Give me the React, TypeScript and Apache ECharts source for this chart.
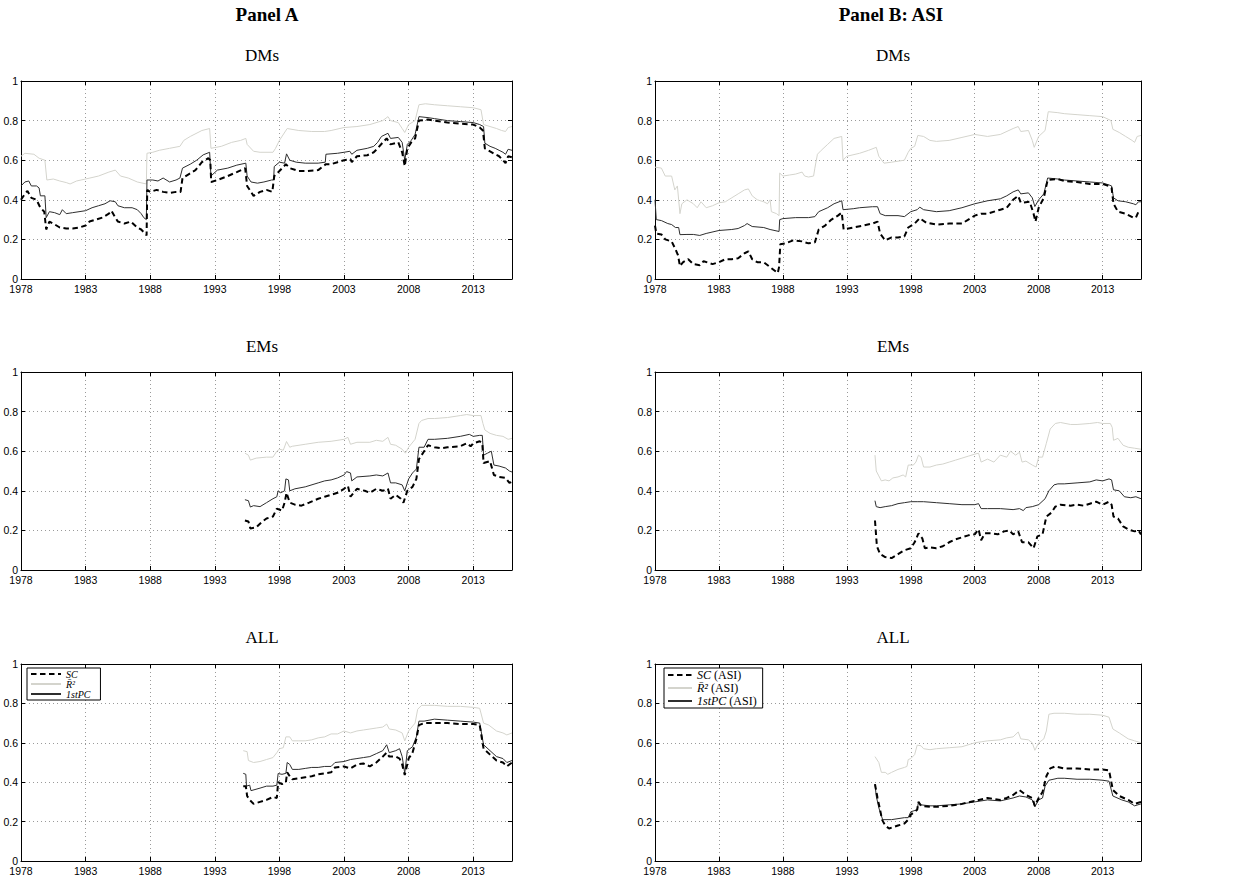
import React, { useEffect, useRef } from "react";
import * as echarts from "echarts";

// ---------- data: [year, value] ----------
const A_DM_SC = [[1978,0.40],[1978.3,0.43],[1978.5,0.445],[1978.8,0.41],[1979.2,0.40],[1979.5,0.36],[1979.8,0.34],[1979.95,0.25],[1980.2,0.29],[1980.5,0.28],[1981,0.26],[1981.5,0.255],[1982,0.255],[1982.5,0.26],[1983,0.27],[1983.3,0.29],[1983.8,0.30],[1984.3,0.31],[1984.8,0.33],[1985,0.345],[1985.3,0.31],[1985.5,0.29],[1986,0.28],[1986.5,0.29],[1987,0.26],[1987.3,0.25],[1987.6,0.23],[1987.72,0.22],[1987.77,0.45],[1988,0.44],[1988.5,0.45],[1989,0.44],[1989.5,0.435],[1990,0.44],[1990.35,0.44],[1990.5,0.51],[1991,0.53],[1991.5,0.55],[1992,0.59],[1992.5,0.61],[1992.65,0.60],[1992.72,0.49],[1993.2,0.50],[1994,0.52],[1994.7,0.54],[1995.35,0.56],[1995.5,0.47],[1995.8,0.44],[1996,0.42],[1996.5,0.44],[1997,0.45],[1997.45,0.44],[1997.6,0.52],[1998,0.545],[1998.5,0.58],[1998.8,0.56],[1999.5,0.545],[2000,0.545],[2001,0.55],[2001.6,0.58],[2002,0.58],[2002.5,0.59],[2003,0.60],[2003.5,0.605],[2003.6,0.59],[2004,0.62],[2004.8,0.625],[2005.3,0.64],[2005.6,0.66],[2006,0.69],[2006.3,0.71],[2006.6,0.68],[2007.2,0.69],[2007.5,0.64],[2007.7,0.57],[2007.9,0.66],[2008.2,0.69],[2008.5,0.71],[2008.8,0.80],[2009.5,0.805],[2010,0.80],[2011,0.79],[2012,0.785],[2013,0.78],[2013.5,0.765],[2013.75,0.75],[2013.9,0.66],[2014.3,0.645],[2014.7,0.63],[2015,0.62],[2015.3,0.60],[2015.5,0.585],[2015.7,0.62],[2016,0.615]];
const A_DM_R2 = [[1978,0.62],[1978.3,0.635],[1979,0.63],[1979.4,0.61],[1979.85,0.60],[1980,0.50],[1980.5,0.505],[1981,0.495],[1981.5,0.487],[1981.8,0.48],[1982.3,0.495],[1983,0.505],[1984,0.52],[1984.8,0.54],[1985.3,0.55],[1985.7,0.52],[1986.3,0.51],[1987,0.49],[1987.7,0.48],[1987.75,0.635],[1988.2,0.64],[1988.7,0.65],[1989.5,0.66],[1990.3,0.67],[1990.6,0.70],[1991.1,0.72],[1992,0.75],[1992.6,0.76],[1992.7,0.66],[1993.5,0.67],[1994.3,0.69],[1995,0.70],[1995.4,0.71],[1995.5,0.68],[1996,0.645],[1996.5,0.64],[1997.5,0.64],[1997.7,0.66],[1998,0.70],[1998.6,0.76],[1999.5,0.75],[2000.5,0.745],[2001.5,0.745],[2002,0.75],[2003,0.765],[2004,0.77],[2005,0.78],[2006,0.80],[2006.4,0.82],[2006.6,0.80],[2007.2,0.79],[2007.5,0.76],[2007.7,0.74],[2008,0.78],[2008.5,0.80],[2008.8,0.88],[2009.3,0.885],[2010,0.88],[2011,0.875],[2012,0.87],[2013,0.865],[2013.6,0.855],[2013.8,0.78],[2014.3,0.77],[2014.8,0.76],[2015.2,0.75],[2015.5,0.745],[2015.7,0.765],[2016,0.77]];
const A_DM_PC = [[1978,0.47],[1978.3,0.49],[1978.6,0.495],[1978.8,0.47],[1979.2,0.47],[1979.4,0.46],[1979.5,0.42],[1979.85,0.42],[1979.95,0.31],[1980.2,0.34],[1980.6,0.335],[1981,0.325],[1981.2,0.35],[1981.5,0.33],[1982,0.335],[1983,0.345],[1983.5,0.36],[1984,0.37],[1984.5,0.38],[1984.9,0.395],[1985.3,0.39],[1985.5,0.37],[1986,0.36],[1986.6,0.36],[1987,0.35],[1987.3,0.33],[1987.5,0.31],[1987.7,0.30],[1987.75,0.50],[1988.2,0.50],[1988.6,0.495],[1989,0.51],[1989.5,0.49],[1990,0.50],[1990.3,0.51],[1990.5,0.56],[1991.1,0.58],[1991.6,0.60],[1992.1,0.627],[1992.6,0.64],[1992.7,0.52],[1993.2,0.55],[1994,0.56],[1994.7,0.575],[1995.4,0.585],[1995.5,0.52],[1995.8,0.49],[1996.3,0.484],[1996.8,0.49],[1997.4,0.50],[1997.55,0.50],[1997.6,0.568],[1998,0.59],[1998.4,0.585],[1998.55,0.632],[1998.8,0.60],[1999.3,0.59],[2000,0.585],[2001,0.585],[2001.55,0.59],[2001.6,0.63],[2002.5,0.635],[2003,0.64],[2003.45,0.645],[2003.6,0.63],[2004,0.65],[2004.8,0.66],[2005.3,0.67],[2005.6,0.69],[2005.9,0.72],[2006.4,0.736],[2006.6,0.71],[2007.2,0.715],[2007.5,0.69],[2007.7,0.60],[2007.9,0.68],[2008.2,0.70],[2008.5,0.73],[2008.8,0.82],[2009.5,0.815],[2010,0.81],[2011,0.80],[2012,0.795],[2013,0.79],[2013.5,0.78],[2013.8,0.77],[2013.9,0.686],[2014.3,0.67],[2014.7,0.66],[2015,0.65],[2015.3,0.64],[2015.5,0.63],[2015.7,0.655],[2016,0.65]];

const B_DM_SC = [[1978,0.27],[1978.1,0.23],[1978.5,0.225],[1978.8,0.20],[1979.3,0.19],[1979.6,0.15],[1979.8,0.12],[1979.95,0.065],[1980.2,0.085],[1980.6,0.10],[1981,0.075],[1981.5,0.07],[1981.8,0.09],[1982.5,0.075],[1983,0.085],[1983.5,0.10],[1984,0.10],[1984.5,0.105],[1985,0.13],[1985.3,0.14],[1985.6,0.10],[1986,0.085],[1986.5,0.085],[1987,0.06],[1987.6,0.03],[1987.7,0.06],[1987.8,0.176],[1988.2,0.18],[1988.8,0.195],[1989.5,0.19],[1990,0.18],[1990.5,0.185],[1990.8,0.25],[1991.3,0.27],[1991.8,0.30],[1992.3,0.32],[1992.6,0.335],[1992.75,0.25],[1993.5,0.26],[1994.3,0.27],[1995,0.28],[1995.4,0.29],[1995.6,0.23],[1996,0.195],[1996.5,0.21],[1997,0.21],[1997.5,0.215],[1997.8,0.26],[1998.3,0.28],[1998.7,0.307],[1999.2,0.285],[2000,0.275],[2001,0.28],[2002,0.28],[2002.5,0.30],[2003,0.32],[2003.5,0.33],[2004,0.33],[2005,0.35],[2005.5,0.36],[2006,0.40],[2006.4,0.42],[2006.6,0.385],[2007.3,0.39],[2007.6,0.33],[2007.75,0.29],[2008,0.36],[2008.4,0.41],[2008.7,0.50],[2009.5,0.505],[2010,0.495],[2011,0.49],[2012,0.48],[2013,0.48],[2013.5,0.47],[2013.7,0.46],[2013.85,0.38],[2014.2,0.34],[2014.8,0.33],[2015.4,0.31],[2015.6,0.31],[2015.8,0.34],[2016,0.34]];
const B_DM_R2 = [[1978,0.565],[1978.5,0.56],[1978.8,0.52],[1979.3,0.52],[1979.55,0.45],[1979.75,0.47],[1979.95,0.33],[1980.1,0.38],[1980.5,0.40],[1981,0.38],[1981.3,0.36],[1981.6,0.39],[1982,0.36],[1982.5,0.37],[1983,0.385],[1983.5,0.39],[1984,0.41],[1984.5,0.43],[1985,0.45],[1985.3,0.455],[1985.6,0.42],[1986,0.40],[1986.5,0.39],[1986.8,0.38],[1987,0.40],[1987.1,0.34],[1987.5,0.33],[1987.7,0.32],[1987.75,0.535],[1988,0.52],[1988.5,0.525],[1989,0.53],[1989.5,0.54],[1989.7,0.52],[1990,0.515],[1990.4,0.52],[1990.5,0.56],[1990.7,0.63],[1991,0.65],[1991.5,0.68],[1992,0.71],[1992.6,0.72],[1992.7,0.60],[1993,0.62],[1994,0.635],[1994.7,0.65],[1995.3,0.665],[1995.5,0.62],[1995.9,0.585],[1996.5,0.59],[1997,0.595],[1997.5,0.60],[1997.8,0.64],[1998,0.66],[1998.3,0.67],[1998.55,0.725],[1999,0.72],[1999.5,0.70],[2000,0.695],[2001,0.70],[2002,0.715],[2003,0.73],[2004,0.72],[2005,0.73],[2006,0.76],[2006.4,0.77],[2006.6,0.745],[2007.2,0.75],[2007.5,0.70],[2007.65,0.665],[2008,0.72],[2008.5,0.75],[2008.75,0.845],[2009.5,0.84],[2010,0.835],[2011,0.83],[2012,0.825],[2013,0.82],[2013.5,0.805],[2013.65,0.80],[2013.8,0.756],[2014.3,0.74],[2014.8,0.72],[2015.3,0.70],[2015.5,0.69],[2015.7,0.72],[2016,0.725]];
const B_DM_PC = [[1978,0.40],[1978.1,0.30],[1978.5,0.295],[1979,0.28],[1979.3,0.275],[1979.6,0.26],[1979.85,0.26],[1979.95,0.224],[1980.5,0.225],[1981,0.225],[1981.5,0.22],[1982,0.23],[1983,0.245],[1984,0.25],[1984.5,0.255],[1985,0.27],[1985.2,0.28],[1985.6,0.265],[1986.5,0.26],[1987,0.25],[1987.7,0.24],[1987.75,0.30],[1988,0.305],[1989,0.31],[1990,0.31],[1990.5,0.315],[1990.8,0.34],[1991.5,0.36],[1992,0.38],[1992.6,0.395],[1992.7,0.35],[1993.5,0.355],[1994,0.36],[1995,0.365],[1995.4,0.365],[1995.6,0.33],[1996,0.32],[1997,0.32],[1997.5,0.315],[1998,0.34],[1998.5,0.35],[1998.7,0.363],[1999,0.35],[2000,0.34],[2001,0.345],[2002,0.36],[2003,0.38],[2004,0.395],[2005,0.405],[2005.5,0.42],[2006,0.44],[2006.4,0.45],[2006.6,0.43],[2007.2,0.435],[2007.5,0.41],[2007.7,0.366],[2008,0.40],[2008.4,0.43],[2008.7,0.51],[2009.5,0.505],[2010,0.50],[2011,0.495],[2012,0.49],[2013,0.485],[2013.5,0.475],[2013.7,0.47],[2013.85,0.41],[2014.2,0.395],[2014.8,0.39],[2015.4,0.38],[2015.6,0.375],[2015.8,0.39],[2016,0.39]];

const A_EM_SC = [[1995.33,0.25],[1995.6,0.245],[1995.75,0.21],[1996.2,0.215],[1996.6,0.24],[1997,0.26],[1997.5,0.27],[1997.8,0.31],[1998.2,0.30],[1998.4,0.34],[1998.55,0.39],[1998.8,0.34],[1999.2,0.33],[1999.7,0.325],[2000.3,0.34],[2001,0.36],[2001.5,0.37],[2002,0.38],[2002.5,0.39],[2003,0.41],[2003.3,0.425],[2003.5,0.37],[2004,0.41],[2004.6,0.40],[2005,0.39],[2005.5,0.41],[2006,0.40],[2006.4,0.41],[2006.6,0.36],[2007,0.38],[2007.4,0.36],[2007.6,0.34],[2007.9,0.40],[2008.3,0.42],[2008.6,0.46],[2008.8,0.56],[2009.2,0.60],[2009.5,0.63],[2010,0.62],[2010.5,0.615],[2011,0.62],[2012,0.625],[2012.5,0.64],[2012.8,0.625],[2013,0.64],[2013.5,0.65],[2013.7,0.64],[2013.8,0.54],[2014.3,0.55],[2014.6,0.48],[2015,0.47],[2015.5,0.465],[2015.8,0.44],[2016,0.445]];
const A_EM_R2 = [[1995.33,0.59],[1995.6,0.58],[1995.75,0.555],[1996.2,0.565],[1997,0.57],[1997.5,0.57],[1997.8,0.60],[1998,0.61],[1998.3,0.605],[1998.55,0.649],[1998.8,0.62],[1999,0.625],[2000,0.635],[2001,0.645],[2002,0.65],[2003,0.66],[2003.3,0.67],[2003.5,0.635],[2004,0.645],[2005,0.645],[2005.5,0.655],[2006,0.65],[2006.4,0.67],[2006.6,0.635],[2007,0.63],[2007.5,0.61],[2007.75,0.59],[2008,0.62],[2008.5,0.66],[2008.8,0.74],[2009,0.755],[2009.5,0.765],[2010,0.765],[2011,0.77],[2012,0.78],[2012.5,0.785],[2013,0.78],[2013.6,0.78],[2013.75,0.74],[2013.9,0.707],[2014.3,0.69],[2014.8,0.68],[2015.3,0.675],[2015.7,0.66],[2016,0.665]];
const A_EM_PC = [[1995.33,0.355],[1995.6,0.35],[1995.75,0.318],[1996,0.325],[1996.5,0.32],[1997,0.34],[1997.5,0.36],[1997.8,0.37],[1997.9,0.40],[1998.1,0.39],[1998.4,0.40],[1998.5,0.46],[1998.7,0.455],[1998.8,0.40],[1999.2,0.41],[2000,0.42],[2001,0.44],[2001.5,0.45],[2002,0.455],[2002.5,0.465],[2003,0.48],[2003.2,0.497],[2003.5,0.49],[2003.6,0.45],[2004,0.47],[2005,0.475],[2005.5,0.48],[2006,0.475],[2006.4,0.49],[2006.6,0.44],[2007,0.44],[2007.5,0.43],[2007.7,0.40],[2008,0.46],[2008.3,0.49],[2008.6,0.51],[2008.8,0.62],[2009.2,0.62],[2009.5,0.66],[2010,0.66],[2011,0.665],[2012,0.675],[2012.7,0.685],[2013,0.675],[2013.5,0.68],[2013.7,0.68],[2013.8,0.58],[2014.1,0.59],[2014.4,0.60],[2014.6,0.53],[2015,0.525],[2015.5,0.515],[2015.8,0.50],[2016,0.495]];

const B_EM_SC = [[1995.2,0.25],[1995.35,0.12],[1995.6,0.08],[1996,0.065],[1996.5,0.06],[1997,0.08],[1997.5,0.10],[1998,0.11],[1998.3,0.14],[1998.6,0.185],[1998.9,0.16],[1999.1,0.11],[1999.5,0.115],[2000,0.11],[2000.5,0.12],[2001,0.14],[2001.5,0.155],[2002,0.165],[2002.5,0.175],[2003,0.18],[2003.3,0.205],[2003.5,0.15],[2003.8,0.185],[2004.3,0.185],[2004.8,0.18],[2005.3,0.195],[2005.7,0.20],[2006,0.18],[2006.4,0.195],[2006.7,0.14],[2007.2,0.14],[2007.6,0.11],[2007.9,0.17],[2008.3,0.18],[2008.6,0.27],[2009,0.29],[2009.3,0.32],[2009.7,0.33],[2010.5,0.325],[2011,0.33],[2011.5,0.325],[2012,0.335],[2012.5,0.345],[2013,0.33],[2013.5,0.345],[2013.7,0.33],[2013.85,0.27],[2014.2,0.26],[2014.6,0.22],[2015,0.205],[2015.5,0.195],[2015.8,0.20],[2016,0.18]];
const B_EM_R2 = [[1995.2,0.58],[1995.3,0.50],[1995.5,0.475],[1995.7,0.45],[1996,0.455],[1996.3,0.45],[1996.6,0.465],[1997,0.47],[1997.4,0.48],[1997.6,0.47],[1997.8,0.53],[1998.2,0.53],[1998.4,0.545],[1998.6,0.58],[1998.8,0.57],[1999,0.52],[1999.5,0.52],[2000,0.53],[2000.5,0.535],[2001,0.545],[2001.5,0.555],[2002,0.565],[2002.5,0.575],[2003,0.585],[2003.3,0.59],[2003.5,0.545],[2004,0.56],[2004.5,0.545],[2005,0.58],[2005.5,0.57],[2005.8,0.60],[2006.2,0.58],[2006.5,0.595],[2006.7,0.545],[2007,0.55],[2007.5,0.53],[2007.8,0.52],[2008,0.57],[2008.3,0.57],[2008.6,0.64],[2008.9,0.712],[2009.3,0.74],[2009.7,0.745],[2010.5,0.735],[2011,0.735],[2012,0.74],[2012.6,0.745],[2013,0.74],[2013.6,0.74],[2013.75,0.72],[2013.85,0.655],[2014.2,0.665],[2014.6,0.63],[2015,0.62],[2015.5,0.615],[2016,0.61]];
const B_EM_PC = [[1995.2,0.35],[1995.3,0.32],[1995.6,0.315],[1996,0.32],[1996.5,0.325],[1997,0.335],[1997.5,0.34],[1998,0.345],[1998.5,0.345],[1999,0.345],[2000,0.34],[2001,0.335],[2002,0.33],[2003,0.33],[2003.3,0.335],[2003.5,0.31],[2004,0.31],[2005,0.31],[2006,0.305],[2006.5,0.31],[2006.8,0.30],[2007,0.315],[2007.5,0.32],[2008,0.33],[2008.5,0.36],[2008.8,0.40],[2009.2,0.43],[2009.5,0.435],[2010,0.435],[2011,0.44],[2012,0.445],[2012.5,0.455],[2013,0.45],[2013.5,0.46],[2013.7,0.455],[2013.85,0.405],[2014.3,0.40],[2014.7,0.37],[2015.2,0.365],[2015.6,0.37],[2016,0.36]];

const A_ALL_SC = [[1995.2,0.38],[1995.4,0.38],[1995.5,0.33],[1995.7,0.31],[1996,0.29],[1996.5,0.30],[1997,0.31],[1997.5,0.325],[1997.8,0.32],[1997.9,0.40],[1998.2,0.39],[1998.5,0.40],[1998.6,0.45],[1998.8,0.43],[1999,0.415],[1999.5,0.42],[2000,0.425],[2000.5,0.43],[2001,0.44],[2001.5,0.445],[2002,0.45],[2002.3,0.475],[2003,0.48],[2003.5,0.47],[2004,0.49],[2004.5,0.495],[2005,0.48],[2005.5,0.50],[2006,0.53],[2006.3,0.55],[2006.5,0.53],[2007,0.53],[2007.3,0.52],[2007.5,0.49],[2007.7,0.436],[2008,0.52],[2008.3,0.55],[2008.6,0.62],[2008.8,0.69],[2009.2,0.70],[2010,0.70],[2011,0.70],[2012,0.695],[2013,0.695],[2013.5,0.69],[2013.8,0.57],[2014.3,0.54],[2014.8,0.51],[2015.3,0.50],[2015.6,0.48],[2016,0.50]];
const A_ALL_R2 = [[1995.2,0.56],[1995.5,0.555],[1995.6,0.51],[1996,0.50],[1996.5,0.505],[1997,0.515],[1997.5,0.525],[1997.8,0.55],[1998,0.57],[1998.3,0.575],[1998.5,0.63],[1998.8,0.63],[1999,0.61],[1999.5,0.61],[2000,0.61],[2000.5,0.615],[2001,0.625],[2001.5,0.63],[2002,0.645],[2002.5,0.645],[2003,0.66],[2003.5,0.65],[2004,0.66],[2004.5,0.665],[2005,0.67],[2005.5,0.675],[2006,0.68],[2006.3,0.695],[2006.5,0.67],[2007,0.665],[2007.5,0.65],[2007.7,0.61],[2008,0.66],[2008.5,0.70],[2008.7,0.77],[2009,0.79],[2010,0.79],[2011,0.785],[2012,0.785],[2013,0.78],[2013.5,0.775],[2013.8,0.70],[2014.2,0.69],[2014.8,0.66],[2015.3,0.65],[2015.6,0.64],[2016,0.65]];
const A_ALL_PC = [[1995.2,0.445],[1995.4,0.44],[1995.45,0.38],[1995.7,0.385],[1995.8,0.357],[1996.5,0.37],[1997,0.38],[1997.5,0.38],[1997.8,0.385],[1997.9,0.444],[1998.2,0.44],[1998.5,0.445],[1998.6,0.50],[1998.8,0.49],[1999,0.465],[1999.5,0.465],[2000,0.47],[2000.5,0.475],[2001,0.475],[2001.5,0.48],[2002,0.48],[2002.3,0.50],[2003,0.505],[2003.5,0.515],[2004,0.52],[2004.5,0.525],[2005,0.53],[2005.5,0.545],[2006,0.56],[2006.3,0.59],[2006.5,0.55],[2007,0.56],[2007.3,0.57],[2007.5,0.53],[2007.7,0.445],[2007.9,0.56],[2008.3,0.58],[2008.6,0.63],[2008.8,0.71],[2009.2,0.71],[2010,0.72],[2011,0.715],[2012,0.71],[2013,0.705],[2013.5,0.70],[2013.8,0.59],[2014.3,0.56],[2014.8,0.53],[2015.3,0.52],[2015.6,0.50],[2016,0.51]];

const B_ALL_SC = [[1995.2,0.39],[1995.4,0.32],[1995.6,0.26],[1995.75,0.21],[1996,0.18],[1996.3,0.165],[1997,0.18],[1997.5,0.19],[1997.8,0.21],[1998,0.235],[1998.5,0.26],[1998.6,0.30],[1998.8,0.28],[1999.5,0.275],[2000,0.275],[2001,0.28],[2002,0.29],[2003,0.305],[2004,0.32],[2005,0.31],[2005.5,0.32],[2006,0.335],[2006.5,0.36],[2007,0.335],[2007.5,0.32],[2007.7,0.28],[2008,0.32],[2008.3,0.35],[2008.6,0.43],[2008.9,0.47],[2009.3,0.48],[2010,0.47],[2011,0.47],[2012,0.465],[2013,0.465],[2013.5,0.46],[2013.8,0.36],[2014.3,0.33],[2015,0.31],[2015.5,0.29],[2016,0.30]];
const B_ALL_R2 = [[1995.2,0.53],[1995.5,0.50],[1995.7,0.45],[1996,0.45],[1996.2,0.44],[1996.5,0.45],[1997,0.465],[1997.5,0.475],[1997.7,0.48],[1997.8,0.515],[1998,0.52],[1998.3,0.54],[1998.5,0.588],[1998.8,0.585],[1999,0.57],[1999.5,0.565],[2000,0.57],[2001,0.575],[2002,0.58],[2003,0.60],[2003.5,0.605],[2004,0.61],[2005,0.615],[2005.5,0.625],[2006,0.63],[2006.4,0.655],[2006.6,0.62],[2007.2,0.615],[2007.5,0.60],[2007.7,0.562],[2008,0.60],[2008.4,0.62],[2008.6,0.66],[2008.8,0.745],[2009.2,0.75],[2010,0.75],[2011,0.745],[2012,0.745],[2013,0.74],[2013.5,0.73],[2013.8,0.67],[2014.3,0.65],[2015,0.62],[2015.5,0.61],[2016,0.60]];
const B_ALL_PC = [[1995.2,0.388],[1995.3,0.33],[1995.5,0.27],[1995.7,0.23],[1995.8,0.21],[1996.5,0.21],[1997,0.215],[1997.5,0.22],[1997.8,0.22],[1998,0.25],[1998.5,0.26],[1998.6,0.30],[1998.8,0.285],[1999.5,0.28],[2000,0.28],[2001,0.285],[2002,0.29],[2003,0.30],[2004,0.31],[2005,0.305],[2006,0.32],[2006.5,0.33],[2007,0.325],[2007.5,0.31],[2007.7,0.275],[2008,0.31],[2008.3,0.32],[2008.5,0.38],[2008.8,0.41],[2009.5,0.42],[2010,0.42],[2011,0.415],[2012,0.415],[2013,0.41],[2013.5,0.405],[2013.8,0.33],[2014.5,0.31],[2015,0.30],[2015.5,0.28],[2016,0.29]];

const NAMES_A = ["SC", "R\u0304\u00B2", "1stPC"];
const NAMES_B = ["SC (ASI)", "R\u0304\u00B2 (ASI)", "1stPC (ASI)"];
const X_MIN = 1978;
const X_MAX = 2016;
const X_STEP = 5;

const PANELS = [
  { grid: { left: 21, top: 81, width: 491, height: 198 }, data: [A_DM_SC, A_DM_R2, A_DM_PC], names: NAMES_A },
  { grid: { left: 655, top: 81, width: 486, height: 198 }, data: [B_DM_SC, B_DM_R2, B_DM_PC], names: NAMES_B },
  { grid: { left: 21, top: 372, width: 491, height: 198 }, data: [A_EM_SC, A_EM_R2, A_EM_PC], names: NAMES_A },
  { grid: { left: 655, top: 372, width: 486, height: 198 }, data: [B_EM_SC, B_EM_R2, B_EM_PC], names: NAMES_B },
  { grid: { left: 21, top: 664, width: 491, height: 197 }, data: [A_ALL_SC, A_ALL_R2, A_ALL_PC], names: NAMES_A },
  { grid: { left: 655, top: 664, width: 486, height: 197 }, data: [B_ALL_SC, B_ALL_R2, B_ALL_PC], names: NAMES_B },
];

const SERIF = '"Liberation Serif", "Times New Roman", serif';
const SANS = '"Liberation Sans", Arial, sans-serif';

function titleText(x: number, y: number, text: string, font: string) {
  return {
    type: "text",
    x,
    y,
    style: {
      text,
      font,
      fill: "#000",
      textAlign: "center",
      align: "center",
      textVerticalAlign: "middle",
      verticalAlign: "middle",
    },
  };
}

export default function App() {
  const ref = useRef<HTMLDivElement>(null);
  useEffect(() => {
    if (!ref.current) return;
    const chart = echarts.init(ref.current, undefined, { renderer: "svg" });
    const grids = PANELS.map((p) => ({ ...p.grid, containLabel: false }));
    const xAxes: any[] = [];
    const yAxes: any[] = [];
    const frame = { show: true, onZero: false, lineStyle: { color: "#000", width: 1 } };
    const ticks = { show: true, inside: true, length: 4, lineStyle: { color: "#000" } };
    const grid = { show: true, lineStyle: { color: "#9a9a9a", width: 1, type: [1, 3] } };
    PANELS.forEach((_, i) => {
      xAxes.push({
        type: "value", gridIndex: i, min: X_MIN, max: X_MAX, interval: X_STEP, position: "bottom",
        axisLine: frame, axisTick: ticks,
        axisLabel: {
          color: "#000", fontFamily: SANS, fontSize: 10.5, margin: 5, lineHeight: 10,
          formatter: (v: number) => ((v - X_MIN) % X_STEP === 0 ? String(v) : ""),
        },
        splitLine: grid,
      });
      yAxes.push({
        type: "value", gridIndex: i, min: 0, max: 1, interval: 0.2, position: "left",
        axisLine: frame, axisTick: ticks,
        axisLabel: {
          color: "#000", fontFamily: SANS, fontSize: 10.5, margin: 3, lineHeight: 9,
          formatter: (v: number) => String(Math.round(v * 10) / 10),
        },
        splitLine: grid,
      });
    });
    PANELS.forEach((_, i) => {
      xAxes.push({
        type: "value", gridIndex: i, min: X_MIN, max: X_MAX, interval: X_STEP, position: "top",
        axisLine: frame, axisTick: ticks, axisLabel: { show: false }, splitLine: { show: false },
      });
      yAxes.push({
        type: "value", gridIndex: i, min: 0, max: 1, interval: 0.2, position: "right",
        axisLine: frame, axisTick: ticks, axisLabel: { show: false }, splitLine: { show: false },
      });
    });

    const styles = [
      { color: "#000000", width: 2, type: [5.5, 3.5] },
      { color: "#d4d4cd", width: 1, type: "solid" },
      { color: "#2e2e2e", width: 1, type: "solid" },
    ];
    const order = [1, 2, 0]; // draw R2, PC, then SC on top
    const series: any[] = [];
    PANELS.forEach((p, i) => {
      order.forEach((k) => {
        series.push({
          type: "line",
          name: p.names[k],
          xAxisIndex: i,
          yAxisIndex: i,
          data: p.data[k],
          symbol: "none",
          showSymbol: false,
          lineStyle: styles[k],
          itemStyle: { color: styles[k].color },
          z: k === 0 ? 4 : 3,
          silent: true,
        });
      });
    });

    const mk = (lh: number, fs: number) => ({
      m: { fontFamily: SERIF, fontStyle: "italic", fontSize: fs, color: "#000", lineHeight: lh },
      r: { fontFamily: SERIF, fontStyle: "normal", fontSize: fs, color: "#000", lineHeight: lh },
    });
    const legendBase = {
      orient: "vertical",
      backgroundColor: "#fff",
      borderColor: "#000",
      borderWidth: 1,
      selectedMode: false,
      itemStyle: { opacity: 0, borderWidth: 0, color: "rgba(0,0,0,0)" },
    };
    const legends = [
      {
        ...legendBase,
        data: NAMES_A,
        left: 27,
        top: 668,
        itemWidth: 30,
        itemHeight: 9,
        itemGap: 0,
        padding: [1, 10, 1, 3],
        formatter: (name: string) => "{m|" + name + "}",
        textStyle: { fontFamily: SERIF, fontSize: 10, color: "#000", lineHeight: 10, rich: mk(10, 10) },
      },
      {
        ...legendBase,
        data: NAMES_B,
        left: 664,
        top: 668,
        itemWidth: 24,
        itemHeight: 12,
        itemGap: 1,
        padding: [1, 6, 1, 3],
        formatter: (name: string) => {
          const i = name.indexOf(" (");
          return "{m|" + name.slice(0, i) + "} {r|" + name.slice(i + 1) + "}";
        },
        textStyle: { fontFamily: SERIF, fontSize: 12, color: "#000", lineHeight: 12, rich: mk(12, 12) },
      },
    ];

    const graphic = [
      titleText(267, 14, "Panel A", 'bold 19px "Liberation Serif", serif'),
      titleText(891, 14, "Panel B: ASI", 'bold 19px "Liberation Serif", serif'),
      titleText(262, 55, "DMs", '17px "Liberation Serif", serif'),
      titleText(893, 55, "DMs", '17px "Liberation Serif", serif'),
      titleText(262, 346, "EMs", '17px "Liberation Serif", serif'),
      titleText(893, 346, "EMs", '17px "Liberation Serif", serif'),
      titleText(262, 637, "ALL", '17px "Liberation Serif", serif'),
      titleText(893, 637, "ALL", '17px "Liberation Serif", serif'),
    ];

    chart.setOption({
      animation: false,
      backgroundColor: "#fff",
      grid: grids,
      xAxis: xAxes,
      yAxis: yAxes,
      series,
      legend: legends,
      graphic,
    });
    return () => chart.dispose();
  }, []);
  return (
    <div
      ref={ref}
      style={{ position: "fixed", left: 0, top: 0, width: 1246, height: 879, background: "#fff" }}
    />
  );
}
